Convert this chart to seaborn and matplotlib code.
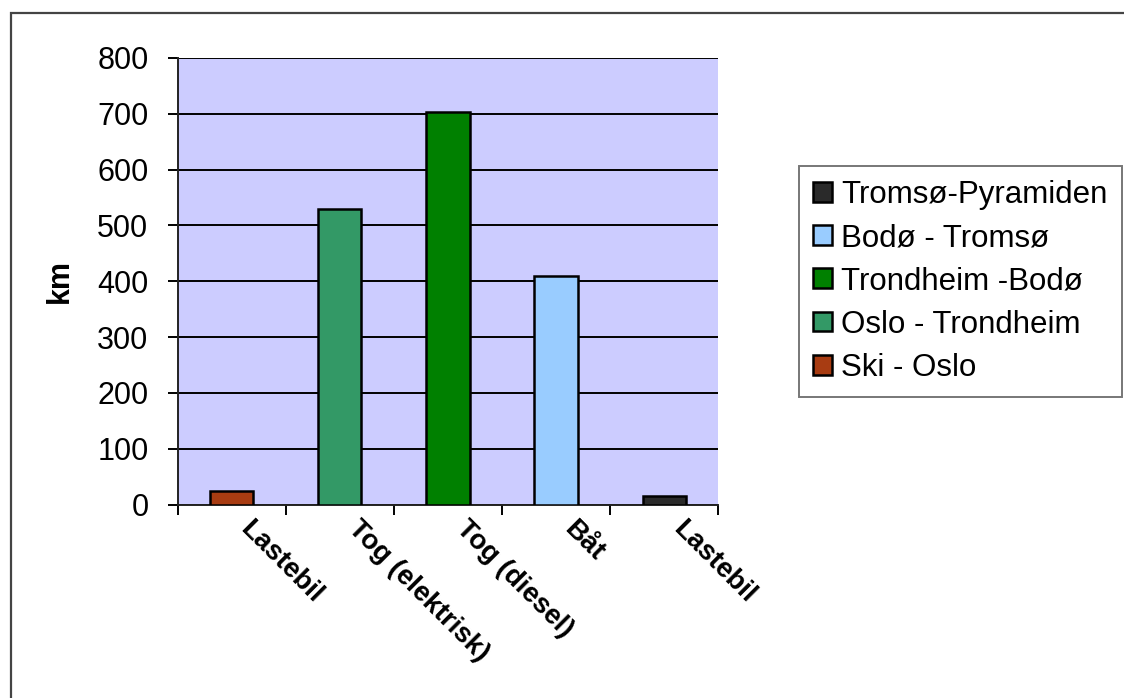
import matplotlib
matplotlib.use("Agg")
import matplotlib.pyplot as plt
import numpy as np
import pandas as pd
import seaborn as sns
from matplotlib.patches import Rectangle

# data
transport = ["Lastebil", "Tog (elektrisk)", "Tog (diesel)", "Båt", "Lastebil "]
routes = ["Ski - Oslo", "Oslo - Trondheim", "Trondheim -Bodø", "Bodø - Tromsø", "Tromsø-Pyramiden"]
km = [25, 530, 703, 410, 15]
colors = ["#A83C12", "#339966", "#008000", "#99CCFF", "#2A2A2A"]

df = pd.DataFrame({"transport": transport, "route": routes, "km": km})

sns.set_style("white")
plt.rcParams["font.family"] = ["Liberation Sans", "DejaVu Sans"]
plt.rcParams["text.color"] = "black"
plt.rcParams["xtick.color"] = "black"
plt.rcParams["ytick.color"] = "black"
plt.rcParams["axes.labelcolor"] = "black"

fig = plt.figure(figsize=(11.24, 6.98), dpi=100)
ax = fig.add_axes([0.158, 0.277, 0.481, 0.64])
ax.set_facecolor("#CCCCFF")

sns.barplot(data=df, x="transport", y="km", hue="route", hue_order=routes,
            palette=colors, saturation=1, dodge=False, width=0.4,
            edgecolor="black", linewidth=1.8, ax=ax, zorder=3)

ax.set_ylim(0, 800)
ax.set_xlim(-0.5, 4.5)
ax.set_yticks(np.arange(0, 801, 100))
ax.yaxis.grid(True, color="black", linewidth=1.4, zorder=1)
ax.set_axisbelow(True)
ax.tick_params(axis="y", labelsize=22, length=7, width=1.4, direction="out", left=True, pad=14)
ax.set_xticks(np.arange(-0.5, 5, 1.0))
ax.set_xticklabels([])
ax.tick_params(axis="x", length=7, width=1.4, direction="out", bottom=True)
for i, lab in enumerate(transport):
    ax.text(i + 0.2, -20, lab.strip(), rotation=-45, ha="left", va="top",
            rotation_mode="anchor", fontsize=20, fontweight="bold",
            transform=ax.transData, clip_on=False)

for s in ["top", "right"]:
    ax.spines[s].set_visible(False)
for s in ["left", "bottom"]:
    ax.spines[s].set_color("#222222")
    ax.spines[s].set_linewidth(1.4)

ax.set_xlabel("")
ax.set_ylabel("km", fontsize=22, fontweight="bold", labelpad=16)

handles, labels = ax.get_legend_handles_labels()
leg = ax.legend(handles[::-1], labels[::-1], loc="upper left",
                bbox_to_anchor=(0.711, 0.762), bbox_transform=fig.transFigure,
                borderaxespad=0, fontsize=22.5, frameon=True, fancybox=False,
                edgecolor="#555555", handlelength=0.6, handleheight=0.6,
                handletextpad=0.3, labelspacing=0.42, borderpad=0.45)
leg.get_frame().set_linewidth(1.4)

fig.patches.append(Rectangle((0.010, -0.05), 1.1, 1.031, transform=fig.transFigure,
                             fill=False, edgecolor="#444444", linewidth=1.6))

fig.savefig("out.png", dpi=100)
